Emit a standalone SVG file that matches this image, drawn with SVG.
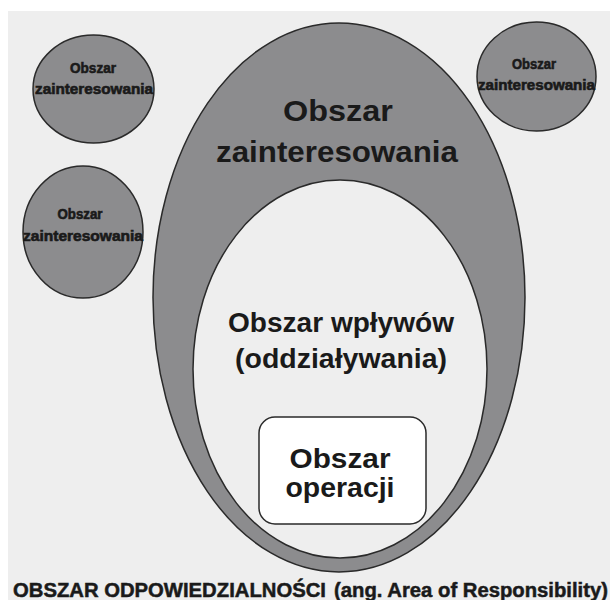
<svg xmlns="http://www.w3.org/2000/svg" width="610" height="600" viewBox="0 0 610 600">
  <style>
    .area { fill: #8c8c8e; stroke: #2a2a2a; stroke-width: 1.5; }
    .inner { fill: #eeeeee; stroke: #2a2a2a; stroke-width: 1.5; }
    .box { fill: #ffffff; stroke: #2a2a2a; stroke-width: 1.5; }
    text { font-family: "Liberation Sans", Arial, sans-serif; font-weight: bold; fill: #1a1a1a; text-anchor: middle; }
    .small { font-size: 14px; stroke: #1a1a1a; stroke-width: 0.6; }
    .big { font-size: 30px; }
    .mid { font-size: 28px; }
    .caption { font-size: 20px; text-anchor: start; stroke: #1a1a1a; stroke-width: 0.5; }
  </style>
  <rect x="0" y="0" width="610" height="600" fill="#ffffff"/>
  <rect x="8" y="11" width="602" height="589" fill="#eeeeee"/>

  <g id="obszar-zainteresowania">
    <ellipse class="area" cx="339" cy="297.5" rx="186" ry="274.5"/>
    <text class="big" x="338" y="121" textLength="110" lengthAdjust="spacingAndGlyphs">Obszar</text>
    <text class="big" x="337" y="162" textLength="242" lengthAdjust="spacingAndGlyphs">zainteresowania</text>
  </g>

  <g id="obszar-wplywow">
    <ellipse class="inner" cx="340" cy="369" rx="147" ry="189"/>
    <text class="mid" x="341" y="332" textLength="226" lengthAdjust="spacingAndGlyphs">Obszar wpływów</text>
    <text class="mid" x="341" y="368" textLength="212" lengthAdjust="spacingAndGlyphs">(oddziaływania)</text>
  </g>

  <g id="obszar-operacji">
    <rect class="box" x="259" y="417" width="167" height="107" rx="16" ry="16"/>
    <text class="mid" x="340" y="468" textLength="101" lengthAdjust="spacingAndGlyphs">Obszar</text>
    <text class="mid" x="340" y="497" textLength="109" lengthAdjust="spacingAndGlyphs">operacji</text>
  </g>

  <g id="zainteresowanie-1">
    <ellipse class="area" cx="93.5" cy="89" rx="60.5" ry="54"/>
    <text class="small" x="93" y="73" textLength="46" lengthAdjust="spacingAndGlyphs">Obszar</text>
    <text class="small" x="94" y="94" textLength="118" lengthAdjust="spacingAndGlyphs">zainteresowania</text>
  </g>

  <g id="zainteresowanie-2">
    <ellipse class="area" cx="83" cy="232" rx="60" ry="66"/>
    <text class="small" x="80" y="219" textLength="45" lengthAdjust="spacingAndGlyphs">Obszar</text>
    <text class="small" x="83" y="241" textLength="120" lengthAdjust="spacingAndGlyphs">zainteresowania</text>
  </g>

  <g id="zainteresowanie-3">
    <ellipse class="area" cx="536.5" cy="76.5" rx="59.5" ry="54.5"/>
    <text class="small" x="534" y="69" textLength="44" lengthAdjust="spacingAndGlyphs">Obszar</text>
    <text class="small" x="536.5" y="90" textLength="117" lengthAdjust="spacingAndGlyphs">zainteresowania</text>
  </g>

  <g id="connectors"></g>

  <g id="caption">
    <text class="caption" x="13" y="597" textLength="595" lengthAdjust="spacingAndGlyphs">OBSZAR ODPOWIEDZIALNOŚCI<tspan dx="8">(ang. Area of Responsibility)</tspan></text>
  </g>
</svg>
